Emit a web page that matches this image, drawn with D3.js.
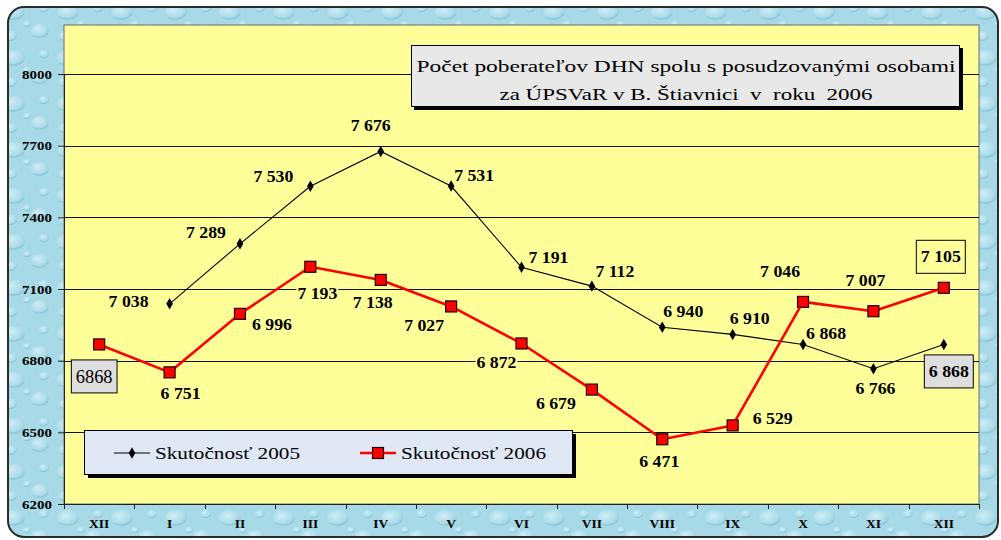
<!DOCTYPE html>
<html>
<head>
<meta charset="utf-8">
<script src="https://cdn.jsdelivr.net/npm/d3@7"></script>
<style>
  body { margin: 0; background: #fff; }
  text { font-family: "Liberation Serif", "Times New Roman", serif; fill: #000; }
</style>
</head>
<body>
<svg id="chart" width="1001" height="540"></svg>
<script>
// months shown on the axis (december of previous year first)
const months = ["XII", "I", "II", "III", "IV", "V", "VI", "VII", "VIII", "IX", "X", "XI", "XII"];
const yTicks = [6200, 6500, 6800, 7100, 7400, 7700, 8000];
const seriesNames = ["Skutočnosť 2005", "Skutočnosť 2006"];
const actual2005 = [null, 7038, 7289, 7530, 7676, 7531, 7191, 7112, 6940, 6910, 6868, 6766, 6868];
const actual2006 = [6868, 6751, 6996, 7193, 7138, 7027, 6872, 6679, 6471, 6529, 7046, 7007, 7105];
const titleLines = ["Počet poberateľov DHN spolu s posudzovanými osobami", "za ÚPSVaR v B. Štiavnici  v  roku  2006"];

// label placement (offset from the point, px) and box style
const labelOffset2005 = [null, [-41, -2], [-34, -11], [-37, -10], [-10, -26], [23, -11], [27, -10], [23, -15], [21, -16], [17, -16], [23, -11], [2, 20], [5, 27]];
const labelOffset2006 = [[-5, 32], [11, 21], [32, 11], [7, 27], [-8, 22], [-27, 19], [-25, 19], [-36, 14], [-3, 22], [40, -7], [-23, -31], [-8, -31], [-3, -31]];
const labelBox2005 = {12: "gray"};
const labelBox2006 = {0: "grayPlain", 12: "yellow"};

const serif = "Liberation Serif, Times New Roman, serif";
const plotFill = "#ffff99";
const svg = d3.select("#chart");
const defs = svg.append("defs");

// watery background pattern
const drop = defs.append("radialGradient").attr("id", "drop")
  .attr("cx", "38%").attr("cy", "35%").attr("r", "65%");
drop.append("stop").attr("offset", "0%").attr("stop-color", "#dff5fa").attr("stop-opacity", 0.75);
drop.append("stop").attr("offset", "65%").attr("stop-color", "#bfe6f0").attr("stop-opacity", 0.45);
drop.append("stop").attr("offset", "100%").attr("stop-color", "#86c5d8").attr("stop-opacity", 0.55);

const pat = defs.append("pattern").attr("id", "water")
  .attr("width", 54).attr("height", 46).attr("patternUnits", "userSpaceOnUse");
pat.append("rect").attr("width", 54).attr("height", 46).attr("fill", "#a7d9e6");
[[14, 12, 11, 8], [40, 31, 9, 7], [44, 8, 5, 4], [11, 36, 6, 5], [27, 24, 4, 3]].forEach(([cx, cy, rx, ry]) => {
  pat.append("ellipse").attr("cx", cx).attr("cy", cy).attr("rx", rx).attr("ry", ry)
    .attr("fill", "url(#drop)");
  pat.append("path")
    .attr("d", `M${cx - rx * 0.8},${cy + ry * 0.6} Q${cx},${cy + ry * 1.3} ${cx + rx * 0.9},${cy + ry * 0.3}`)
    .attr("fill", "none").attr("stroke", "#80bfd2").attr("stroke-width", 1).attr("opacity", 0.6);
});

svg.append("rect")
  .attr("x", 8).attr("y", 7).attr("width", 990).attr("height", 530).attr("rx", 16)
  .attr("fill", "url(#water)").attr("stroke", "#2b2b2b").attr("stroke-width", 2);

// scales
const x = d3.scaleBand().domain(d3.range(months.length)).range([64, 979]);
const xc = i => x(i) + x.bandwidth() / 2;
const y = d3.scaleLinear().domain([6200, 8000]).range([504, 74]);

// plot area
svg.append("rect")
  .attr("x", 64).attr("y", 25).attr("width", 915).attr("height", 479)
  .attr("fill", plotFill).attr("stroke", "#6b6b6b").attr("stroke-width", 1);

svg.append("g")
  .selectAll("line")
  .data(yTicks.slice(1))
  .join("line")
  .attr("x1", 64).attr("x2", 979)
  .attr("y1", d => Math.round(y(d)) + 0.5).attr("y2", d => Math.round(y(d)) + 0.5)
  .attr("stroke", "#111").attr("stroke-width", 1.2);

function stretch(sel, k) {
  sel.each(function() {
    const w = this.getComputedTextLength();
    d3.select(this).attr("textLength", w * k).attr("lengthAdjust", "spacingAndGlyphs");
  });
}

// axes
const yAxis = svg.append("g")
  .attr("transform", "translate(64,0)")
  .call(d3.axisLeft(y).tickValues(yTicks).tickSize(6).tickPadding(6).tickFormat(d3.format("d")));
yAxis.select(".domain").attr("stroke", "#222");
yAxis.selectAll(".tick line").attr("stroke", "#222");
yAxis.selectAll("text").attr("font-size", 13).attr("font-weight", "bold")
  .attr("font-family", serif).attr("fill", "#000");
stretch(yAxis.selectAll("text"), 1.15);

const xAxis = svg.append("g")
  .attr("transform", "translate(0,504)")
  .call(d3.axisBottom(x).tickSize(0).tickSizeOuter(0).tickPadding(15).tickFormat(i => months[i]));
xAxis.select(".domain").attr("stroke", "#222");
xAxis.selectAll("text").attr("font-size", 12.5).attr("font-weight", "bold")
  .attr("font-family", serif).attr("fill", "#000");
stretch(xAxis.selectAll("text"), 1.08);

const bounds = d3.range(months.length + 1).map(i => i < months.length ? x(i) : x.range()[1]);
xAxis.selectAll(".bound")
  .data(bounds)
  .join("line")
  .attr("class", "bound")
  .attr("x1", d => Math.round(d) + 0.5).attr("x2", d => Math.round(d) + 0.5)
  .attr("y1", 0).attr("y2", 5)
  .attr("stroke", "#222");

// title box
svg.append("rect").attr("x", 414).attr("y", 48).attr("width", 549).attr("height", 62).attr("fill", "#000");
svg.append("rect").attr("x", 411.5).attr("y", 45.5).attr("width", 548).attr("height", 61)
  .attr("fill", "#e8e8e8").attr("stroke", "#000").attr("stroke-width", 1);
const titleWidths = [539, 373];
titleLines.forEach((line, i) => {
  svg.append("text")
    .attr("x", 686).attr("y", 72 + i * 28)
    .attr("text-anchor", "middle")
    .attr("font-family", serif)
    .attr("font-size", 17)
    .attr("xml:space", "preserve")
    .attr("textLength", titleWidths[i]).attr("lengthAdjust", "spacingAndGlyphs")
    .text(line);
});

// legend
svg.append("rect").attr("x", 88).attr("y", 434).attr("width", 488).attr("height", 44).attr("fill", "#000");
svg.append("rect").attr("x", 84.5).attr("y", 430.5).attr("width", 488).attr("height", 44)
  .attr("fill", "#dfe8f4").attr("stroke", "#000").attr("stroke-width", 1);

const legendItems = [
  {name: seriesNames[0], x0: 114, color: "#000", width: 1.2, marker: "diamond"},
  {name: seriesNames[1], x0: 360, color: "#ff0000", width: 2.6, marker: "square"}
];
const diamond = d3.symbol().type(d3.symbolDiamond).size(38);
legendItems.forEach(it => {
  const g = svg.append("g").attr("transform", `translate(${it.x0},453)`);
  g.append("line").attr("x1", 0).attr("x2", 36).attr("stroke", it.color).attr("stroke-width", it.width);
  if (it.marker === "diamond") {
    g.append("path").attr("d", diamond()).attr("transform", "translate(18,0)").attr("fill", "#000");
  } else {
    g.append("rect").attr("x", 12.5).attr("y", -5.5).attr("width", 11).attr("height", 11)
      .attr("fill", "#ff0000").attr("stroke", "#200000").attr("stroke-width", 1.2);
  }
  g.append("text").attr("x", 41).attr("dy", "0.35em")
    .attr("font-family", serif).attr("font-size", 17)
    .attr("textLength", 145).attr("lengthAdjust", "spacingAndGlyphs")
    .text(it.name);
});

// series lines
const line = d3.line()
  .defined(d => d != null)
  .x((d, i) => xc(i))
  .y(d => y(d));

svg.append("path").datum(actual2005)
  .attr("d", line).attr("fill", "none").attr("stroke", "#000").attr("stroke-width", 1.1);
svg.append("g").selectAll("path")
  .data(actual2005.map((v, i) => ({v, i})).filter(d => d.v != null))
  .join("path")
  .attr("d", diamond())
  .attr("transform", d => `translate(${xc(d.i)},${y(d.v)})`)
  .attr("fill", "#000");

svg.append("path").datum(actual2006)
  .attr("d", line).attr("fill", "none").attr("stroke", "#ff0000").attr("stroke-width", 2.6)
  .attr("stroke-linejoin", "round");
svg.append("g").selectAll("rect")
  .data(actual2006.map((v, i) => ({v, i})))
  .join("rect")
  .attr("x", d => xc(d.i) - 5.5).attr("y", d => y(d.v) - 5.5)
  .attr("width", 11).attr("height", 11)
  .attr("fill", "#ff0000").attr("stroke", "#200000").attr("stroke-width", 1.2);

// data labels
const fmt = d3.formatLocale({decimal: ",", thousands: " ", grouping: [3], currency: ["", ""]}).format(",d");
const labelLayer = svg.append("g");

function drawLabels(values, offsets, boxes) {
  values.forEach((v, i) => {
    if (v == null) return;
    const box = boxes[i];
    const g = labelLayer.append("g")
      .attr("transform", `translate(${xc(i) + offsets[i][0]},${y(v) + offsets[i][1]})`);
    const r = g.append("rect");
    const t = g.append("text")
      .attr("text-anchor", "middle").attr("dy", "0.35em")
      .attr("font-family", serif)
      .attr("font-size", box === "grayPlain" ? 18 : 16)
      .attr("font-weight", box === "grayPlain" ? "normal" : "bold")
      .text(box === "grayPlain" ? d3.format("d")(v) : fmt(v));
    stretch(t, box === "grayPlain" ? 1.02 : 1.11);
    const w = +t.attr("textLength");
    if (box) {
      r.attr("x", -w / 2 - 4.5).attr("y", -16.5).attr("width", w + 9).attr("height", 33)
        .attr("fill", box === "yellow" ? plotFill : "#dedede")
        .attr("stroke", "#000").attr("stroke-width", 1);
    } else {
      r.attr("x", -w / 2 - 1).attr("y", -8).attr("width", w + 2).attr("height", 16).attr("fill", plotFill);
    }
  });
}
drawLabels(actual2005, labelOffset2005, labelBox2005);
drawLabels(actual2006, labelOffset2006, labelBox2006);
</script>
</body>
</html>
